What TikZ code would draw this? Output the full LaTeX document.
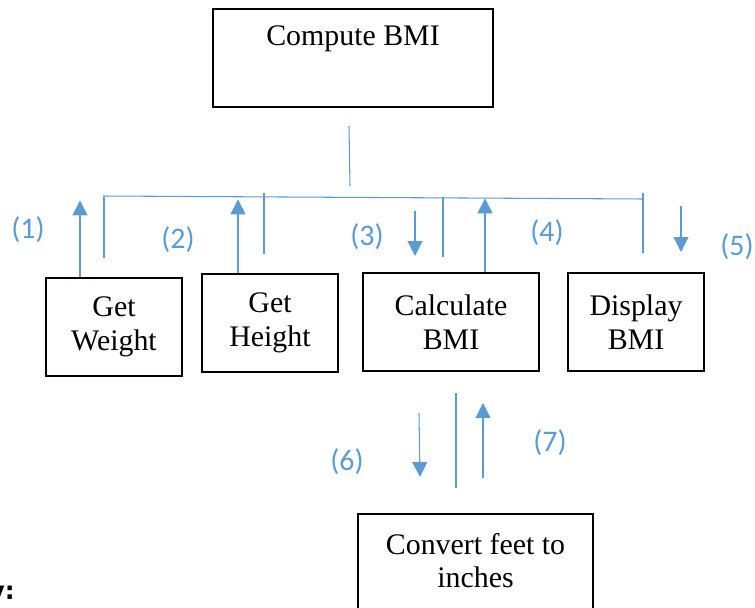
\documentclass[tikz,border=0pt]{standalone}
\usepackage{fontspec}
\setmainfont{Liberation Serif}
\newfontfamily\numfont{Carlito}
\newfontfamily\cutfont{DejaVu Sans}
\usetikzlibrary{arrows.meta,calc}
\definecolor{linkblue}{RGB}{91,155,213}

\begin{document}
\begin{tikzpicture}[x=0.02cm,y=-0.02cm]

\tikzstyle{module}=[draw,line width=0.7pt,align=center,inner sep=0pt,font=\fontsize{17}{19}\selectfont]
\tikzstyle{link}=[draw=linkblue,line width=0.6pt]
\tikzstyle{flow}=[link,-{Triangle[width=8.5pt,length=8.5pt]}]
\tikzstyle{num}=[text=linkblue,inner sep=0pt,font=\numfont\fontsize{17}{19}\selectfont]

\clip (0,0) rectangle (755,608);

% modules
\node (compute) [module,minimum width=5.6cm,minimum height=1.96cm] at (353,58) {Compute BMI\\[6pt]~};
\node (weight) [module,minimum width=2.72cm,minimum height=1.96cm] at (114,327) {Get\\Weight};
\node (height) [module,minimum width=2.72cm,minimum height=1.96cm] at (270,323) {Get\\Height};
\node (calc) [module,minimum width=3.52cm,minimum height=1.96cm] at (451,322) {Calculate\\BMI};
\node (display) [module,minimum width=2.72cm,minimum height=1.96cm] at (636,322) {Display\\BMI};
\node (convert) [module,minimum width=4.7cm,minimum height=2.52cm] at (475.5,577) {Convert feet to\\inches\\~};

% bus under the main module
\coordinate (bus top) at (349,126);
\coordinate (bus low) at (350,186);
\coordinate (bus west) at (103,196);
\coordinate (bus east) at (643,199);
\draw[link] (bus top) -- (bus low);
\draw[link] (bus west) -- (bus east);
\foreach \x/\a/\b in {104/197/258, 264/193/254, 443/197/257, 643/193/253}
  \draw[link] (\x,\a) -- (\x,\b);

% data flows
\draw[flow] ($(weight.north)+(-34,0)$) -- ++(0,-77);
\draw[flow] ($(height.north)+(-32,0)$) -- ++(0,-74);
\draw[flow] (415,211) -- (415,256);
\draw[flow] ($(calc.north)+(34,0)$) -- ++(0,-74);
\draw[flow] (681,206) -- (681,252);

\draw[flow] (419,413) -- (420,477);
\draw[link] (456,393) -- (456,488);
\draw[flow] (483,478) -- (483,403);

% flow numbers
\node (n1) [num] at (28,230) {(1)};
\node (n2) [num] at (178,240) {(2)};
\node (n3) [num] at (367,237) {(3)};
\node (n4) [num] at (547,233) {(4)};
\node (n5) [num] at (737,247) {(5)};
\node (n6) [num] at (347,462) {(6)};
\node (n7) [num] at (550,443) {(7)};

\node (cut) [anchor=base east,inner sep=0pt,font=\cutfont\bfseries\fontsize{14}{17}\selectfont] at (15,599) {y:};

\end{tikzpicture}
\end{document}
